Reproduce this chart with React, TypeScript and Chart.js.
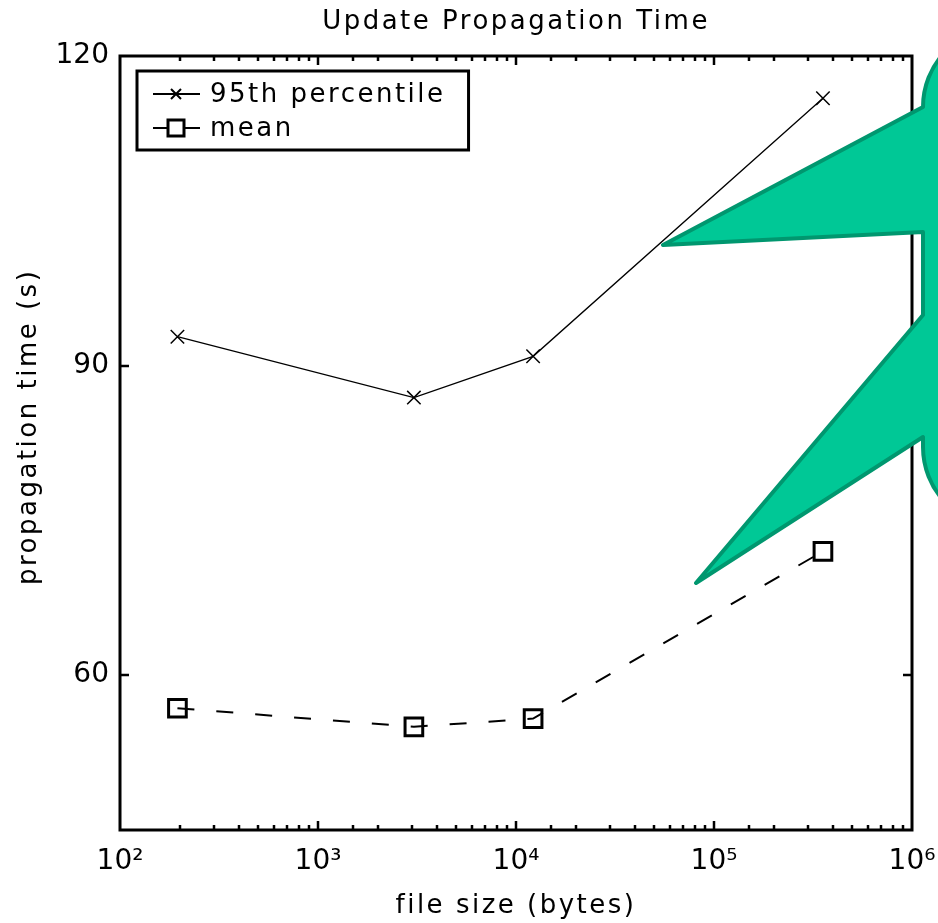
import React, { useEffect, useRef } from 'react';
import { Chart, registerables } from 'chart.js';

Chart.register(...registerables);

// ---- data ----
const fileSizes = [195, 3050, 12200, 355000];
const p95Times = [92.8, 86.9, 90.9, 115.9];
const meanTimes = [56.8, 55.0, 55.8, 72.0];
const seriesLabels = ['95th percentile', 'mean'];
const yTickValues = [60, 90, 120];
const xMajorTicks = [100, 1000, 10000, 100000, 1000000];
const xTickLabels = ['10²', '10³', '10⁴', '10⁵', '10⁶'];
const chartTitle = 'Update Propagation Time';
const xTitle = 'file size (bytes)';
const yTitle = 'propagation time (s)';

const FONT = '"DejaVu Sans", "Liberation Sans", sans-serif';
const SPACING = '2.5px';

const isMajor = (v: number) => Math.abs(Math.log10(v) - Math.round(Math.log10(v))) < 1e-9;

// wide letter spacing for titles/legend, none for tick labels (drawn after datasets)
const spacingPlugin = {
  id: 'spacing',
  beforeLayout(chart: any) { chart.ctx.letterSpacing = SPACING; },
  beforeDraw(chart: any) { chart.ctx.letterSpacing = SPACING; },
  beforeDatasetsDraw(chart: any) { chart.ctx.letterSpacing = '0px'; },
};

const framePlugin = {
  id: 'frame',
  afterDatasetsDraw(chart: any) {
    const { ctx, chartArea: a, scales } = chart;
    ctx.save();
    ctx.strokeStyle = '#000';
    ctx.lineWidth = 3;
    ctx.strokeRect(a.left, a.top, a.right - a.left, a.bottom - a.top);
    ctx.beginPath();
    ctx.lineWidth = 2.5;
    for (const t of scales.x.ticks) {
      const px = Math.round(scales.x.getPixelForValue(t.value));
      if (px <= a.left + 1 || px >= a.right - 1) continue;
      const len = isMajor(t.value) ? 9 : 5;
      ctx.moveTo(px, a.bottom); ctx.lineTo(px, a.bottom - len);
      ctx.moveTo(px, a.top); ctx.lineTo(px, a.top + len);
    }
    for (const t of scales.y.ticks) {
      const py = Math.round(scales.y.getPixelForValue(t.value));
      if (py <= a.top + 1 || py >= a.bottom - 1) continue;
      ctx.moveTo(a.left, py); ctx.lineTo(a.left + 9, py);
      ctx.moveTo(a.right, py); ctx.lineTo(a.right - 9, py);
    }
    ctx.stroke();
    ctx.restore();
  },
};

const legendPlugin = {
  id: 'insideLegend',
  afterDraw(chart: any) {
    const { ctx, chartArea: a } = chart;
    const ds = chart.data.datasets;
    ctx.save();
    ctx.letterSpacing = SPACING;
    ctx.font = `26px ${FONT}`;
    const x0 = a.left + 17;
    const y0 = a.top + 15;
    const rowH = 34;
    const textOff = 73;
    const maxW = Math.max(...ds.map((d: any) => ctx.measureText(d.label).width));
    const w = textOff + maxW + 23;
    const h = 79;
    ctx.fillStyle = '#fff';
    ctx.fillRect(x0, y0, w, h);
    ctx.strokeStyle = '#000';
    ctx.lineWidth = 3;
    ctx.strokeRect(x0, y0, w, h);
    ds.forEach((d: any, i: number) => {
      const cy = y0 + 23 + i * rowH;
      const mx = x0 + 39;
      ctx.strokeStyle = '#000';
      ctx.lineWidth = 2;
      ctx.setLineDash([]);
      ctx.beginPath();
      ctx.moveTo(x0 + 16, cy);
      ctx.lineTo(x0 + 63, cy);
      ctx.stroke();
      if (d.pointStyle === 'crossRot') {
        const r = 5;
        ctx.lineWidth = 2;
        ctx.beginPath();
        ctx.moveTo(mx - r, cy - r); ctx.lineTo(mx + r, cy + r);
        ctx.moveTo(mx - r, cy + r); ctx.lineTo(mx + r, cy - r);
        ctx.stroke();
      } else {
        const s = 8;
        ctx.fillStyle = '#fff';
        ctx.fillRect(mx - s, cy - s, 2 * s, 2 * s);
        ctx.lineWidth = 3;
        ctx.strokeRect(mx - s, cy - s, 2 * s, 2 * s);
      }
      ctx.fillStyle = '#000';
      ctx.textBaseline = 'middle';
      ctx.textAlign = 'left';
      ctx.fillText(d.label, x0 + textOff, cy + 1);
    });
    ctx.restore();
  },
};

// decorative speech-bubble overlay (not data)
const calloutPlugin = {
  id: 'callout',
  afterDraw(chart: any) {
    const { ctx } = chart;
    const L = 923, T = 27, B = 527, R = 80, FAR = 1200;
    ctx.save();
    ctx.beginPath();
    ctx.moveTo(L, 107);
    ctx.lineTo(663, 245);
    ctx.lineTo(L, 232);
    ctx.lineTo(L, 315);
    ctx.lineTo(696, 583);
    ctx.lineTo(L, 437);
    ctx.lineTo(L, B - R);
    ctx.arcTo(L, B, L + R, B, R);
    ctx.lineTo(FAR, B);
    ctx.lineTo(FAR, T);
    ctx.lineTo(L + R, T);
    ctx.arcTo(L, T, L, T + R, R);
    ctx.closePath();
    ctx.fillStyle = '#00C896';
    ctx.fill();
    ctx.lineJoin = 'round';
    ctx.lineWidth = 4;
    ctx.strokeStyle = '#00976F';
    ctx.stroke();
    ctx.restore();
  },
};

export default function App() {
  const ref = useRef<HTMLCanvasElement | null>(null);
  useEffect(() => {
    if (!ref.current) return;
    const titleFont = { family: FONT, size: 26, weight: 'normal' as const };
    const tickFont = { family: FONT, size: 28, weight: 'normal' as const };
    const chart = new Chart(ref.current, {
      type: 'line',
      data: {
        datasets: [
          {
            label: seriesLabels[0],
            data: fileSizes.map((x, i) => ({ x, y: p95Times[i] })),
            borderColor: '#000',
            borderWidth: 1.3,
            pointStyle: 'crossRot',
            pointRadius: 9.5,
            pointBorderWidth: 1.5,
            pointBorderColor: '#000',
            pointBackgroundColor: '#000',
            tension: 0,
            fill: false,
          },
          {
            label: seriesLabels[1],
            data: fileSizes.map((x, i) => ({ x, y: meanTimes[i] })),
            borderColor: '#000',
            borderWidth: 2,
            borderDash: [17, 22],
            pointStyle: 'rect',
            pointRadius: 12.5,
            pointBorderWidth: 3,
            pointBorderColor: '#000',
            pointBackgroundColor: 'rgba(0,0,0,0)',
            tension: 0,
            fill: false,
          },
        ],
      },
      options: {
        animation: false,
        responsive: false,
        layout: { padding: { left: 0, right: 26, top: 0, bottom: 0 } },
        plugins: {
          legend: { display: false },
          tooltip: { enabled: false },
          title: {
            display: true,
            text: chartTitle,
            fullSize: false,
            color: '#000',
            font: titleFont,
            padding: { top: 6.4, bottom: 18.4 },
          },
        },
        scales: {
          x: {
            type: 'logarithmic',
            min: 100,
            max: 1000000,
            grid: { display: false, drawTicks: false },
            border: { display: false },
            ticks: {
              z: 1,
              autoSkip: false,
              maxRotation: 0,
              minRotation: 0,
              padding: 15,
              color: '#000',
              font: tickFont,
              callback: (v: any) => {
                const n = Number(v);
                const i = xMajorTicks.findIndex((m) => Math.abs(m - n) < 1e-6 * m);
                return i >= 0 ? xTickLabels[i] : '';
              },
            },
            title: { display: true, text: xTitle, color: '#000', font: titleFont, padding: { top: 0, bottom: 1.4 } },
            afterFit: (s: any) => { s.height = 93; s.paddingLeft = 0; s.paddingRight = 0; },
          },
          y: {
            type: 'linear',
            min: 45,
            max: 120,
            grid: { display: false, drawTicks: false },
            border: { display: false },
            afterBuildTicks: (s: any) => { s.ticks = yTickValues.map((v) => ({ value: v })); },
            ticks: { z: 1, padding: 11, color: '#000', font: tickFont },
            title: { display: true, text: '   ' + yTitle, color: '#000', font: titleFont, padding: { top: 13.4, bottom: 0 } },
            afterFit: (s: any) => { s.width = 120; s.paddingTop = 0; s.paddingBottom = 0; },
          },
        },
      },
      plugins: [spacingPlugin, framePlugin, legendPlugin, calloutPlugin],
    } as any);
    return () => chart.destroy();
  }, []);
  return (
    <div style={{ position: 'absolute', left: 0, top: 0, width: 938, height: 923, background: '#fff' }}>
      <canvas ref={ref} width={938} height={923} style={{ display: 'block' }} />
    </div>
  );
}
